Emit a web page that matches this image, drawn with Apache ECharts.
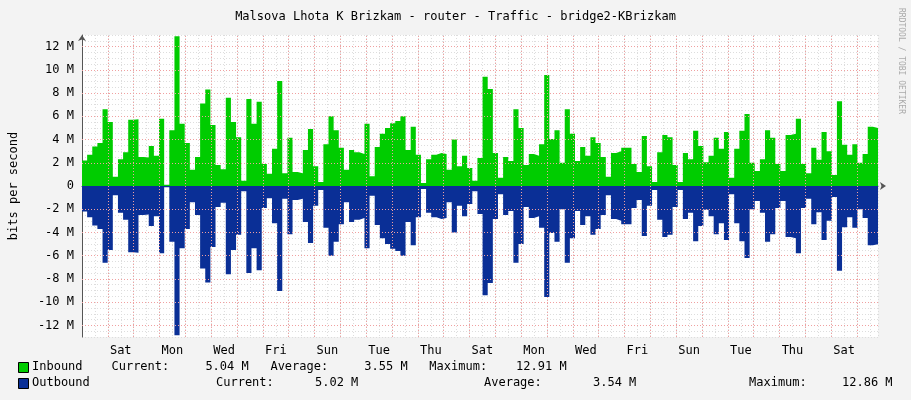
<!DOCTYPE html><html><head><meta charset="utf-8">
<script src="https://cdn.jsdelivr.net/npm/echarts@6/dist/echarts.min.js"></script>
<style>html,body{margin:0;background:#f3f3f3}#c{width:911px;height:400px}</style></head><body><div id="c"></div>
<script>
const dayLabels=['Sat','Mon','Wed','Fri','Sun','Tue','Thu','Sat','Mon','Wed','Fri','Sun','Tue','Thu','Sat'];
const yTicks=[-12,-10,-8,-6,-4,-2,0,2,4,6,8,10,12];
const inbound=[2.2,2.7,3.4,3.7,6.6,5.5,0.8,2.3,2.9,5.7,5.75,2.5,2.45,3.45,2.6,5.8,0.1,4.8,12.9,5.35,3.7,1.4,2.5,7.1,8.3,5.25,1.8,1.45,7.6,5.5,4.2,0.45,7.5,5.35,7.25,1.9,1.05,3.2,9.05,1.1,
4.15,1.2,1.1,3.1,4.9,1.7,0.35,3.6,6.0,4.8,3.3,1.4,3.1,2.9,2.75,5.35,0.85,3.35,4.5,5.0,5.4,5.6,6.0,3.1,5.1,2.7,0.25,2.3,2.7,2.85,2.75,1.4,4.0,1.7,2.6,1.55,0.45,2.4,9.4,
8.35,2.85,0.7,2.5,2.15,6.6,5.0,1.8,2.75,2.6,3.6,9.55,4.05,4.8,2.0,6.6,4.5,2.15,3.35,2.6,4.2,3.7,2.5,0.8,2.85,3.0,3.3,3.3,1.9,1.2,4.3,1.7,0.35,2.9,4.4,4.2,1.8,0.35,2.85,
2.3,4.75,3.45,2.05,2.6,4.15,3.2,4.65,0.7,3.2,4.75,6.2,2.0,1.3,2.3,4.8,4.15,1.9,1.3,4.4,4.5,5.8,1.9,1.1,3.3,2.25,4.65,3.0,0.95,7.3,3.55,2.7,3.6,2.0,2.75,5.1,5.0];
const outbound=[2.2,2.7,3.4,3.7,6.6,5.5,0.8,2.3,2.9,5.7,5.75,2.5,2.45,3.45,2.6,5.8,0.1,4.8,12.86,5.35,3.7,1.4,2.5,7.1,8.3,5.25,1.8,1.45,7.6,5.5,4.2,0.45,7.5,5.35,7.25,1.9,1.05,3.2,9.05,1.1,
4.15,1.2,1.1,3.1,4.9,1.7,0.35,3.6,6.0,4.8,3.3,1.4,3.1,2.9,2.75,5.35,0.85,3.35,4.5,5.0,5.4,5.6,6.0,3.1,5.1,2.7,0.25,2.3,2.7,2.85,2.75,1.4,4.0,1.7,2.6,1.55,0.45,2.4,9.4,
8.35,2.85,0.7,2.5,2.15,6.6,5.0,1.8,2.75,2.6,3.6,9.55,4.05,4.8,2.0,6.6,4.5,2.15,3.35,2.6,4.2,3.7,2.5,0.8,2.85,3.0,3.3,3.3,1.9,1.2,4.3,1.7,0.35,2.9,4.4,4.2,1.8,0.35,2.85,
2.3,4.75,3.45,2.05,2.6,4.15,3.2,4.65,0.7,3.2,4.75,6.2,2.0,1.3,2.3,4.8,4.15,1.9,1.3,4.4,4.5,5.8,1.9,1.1,3.3,2.25,4.65,3.0,0.95,7.3,3.55,2.7,3.6,2.0,2.75,5.1,5.02];
const totalDays=798/25.9, startOff=0;
function pts(arr,sign){const w=totalDays/arr.length;const d=arr.map((v,i)=>[i*w,sign*v]);d.push([totalDays,sign*arr[arr.length-1]]);return d;}
const F='DejaVu Sans Mono';
const ch=echarts.init(document.getElementById('c'));
const t=(x,y,s)=>({type:'text',left:x,top:y,style:{text:s,font:'12px '+F,fill:'#000'}});
ch.setOption({animation:false,backgroundColor:'#f3f3f3',
grid:{left:80,right:33,top:35,bottom:63,backgroundColor:'#fff',show:true,borderWidth:0},
title:{text:'Malsova Lhota K Brizkam - router - Traffic - bridge2-KBrizkam',left:'center',top:6,textStyle:{fontFamily:F,fontSize:12,fontWeight:'normal',color:'#000'}},
xAxis:{type:'value',min:0,max:totalDays,interval:0.5,
 axisLine:{lineStyle:{color:'#555'},symbol:['none','arrow'],symbolSize:[6,6],symbolOffset:[0,8]},
 axisTick:{show:false},
 axisLabel:{fontFamily:F,fontSize:12,color:'#000',showMinLabel:false,showMaxLabel:false,formatter:v=>{const d=v-1.5;if(Math.abs(d/2-Math.round(d/2))<1e-6&&d>=-1e-6){return dayLabels[Math.round(d/2)]||'';}return '';}},
 splitLine:{show:true,lineStyle:{type:[1,2],color:ctx=>'#ddd'}} },
yAxis:{type:'value',min:-13,max:13,interval:0.5,
 axisLine:{show:true,lineStyle:{color:'#555'},symbol:['none','arrow'],symbolSize:[6,6]},
 axisTick:{show:false},
 axisLabel:{fontFamily:F,fontSize:12,color:'#000',formatter:v=>{if(!yTicks.includes(v))return '';return v===0?'0':v+' M';}},
 name:'bits per second',nameLocation:'middle',nameGap:62,nameTextStyle:{fontFamily:F,fontSize:12,color:'#000'},
 splitLine:{show:true,lineStyle:{type:[1,2],color:'#ddd'}}},
series:[
 {type:'line',step:'end',data:pts(inbound,1),symbol:'none',lineStyle:{width:0},areaStyle:{color:'#00cc00',opacity:1},z:3},
 {type:'line',step:'end',data:pts(outbound,-1),symbol:'none',lineStyle:{width:0},areaStyle:{color:'#0a2f96',opacity:1},z:3},
 {type:'line',data:[],symbol:'none',z:4,markLine:{silent:true,symbol:'none',label:{show:false},
   data:[...Array.from({length:30},(_,i)=>({xAxis:i+1,lineStyle:{color:'#f0a0a0',type:[1,2],width:1}})),
         ...yTicks.filter(v=>v!==0).map(v=>({yAxis:v,lineStyle:{color:'#f0a0a0',type:[1,2],width:1}})),
         {yAxis:0,lineStyle:{color:'#000',type:'solid',width:1,opacity:0}}]}}
],
graphic:[
 {type:'rect',left:18,top:362,shape:{width:10,height:10},style:{fill:'#00cc00',stroke:'#000'}},
 {type:'rect',left:18,top:378,shape:{width:10,height:10},style:{fill:'#0a2f96',stroke:'#000'}},
 t(32,361,'Inbound    Current:     5.04 M   Average:     3.55 M   Maximum:    12.91 M'),
 t(32,377,'Outbound'),t(216,377,'Current:'),t(315,377,'5.02 M'),t(484,377,'Average:'),t(593,377,'3.54 M'),t(749,377,'Maximum:'),t(842,377,'12.86 M'),
 {type:'text',left:897,top:8,rotation:-Math.PI/2,originX:0,originY:0,style:{text:'RRDTOOL / TOBI OETIKER',font:'8px '+F,fill:'#aaa'},x:0,y:0}
]});
</script></body></html>
